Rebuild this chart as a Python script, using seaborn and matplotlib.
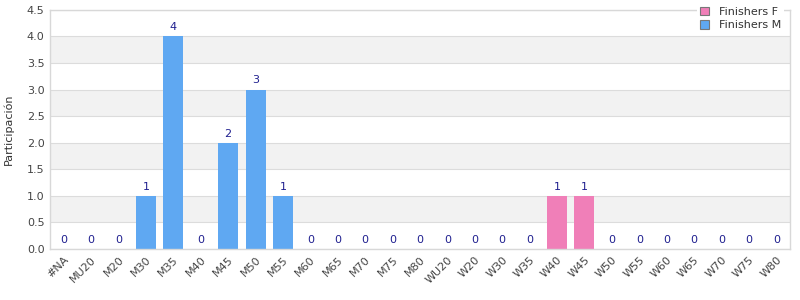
import matplotlib
matplotlib.use("Agg")
import matplotlib.pyplot as plt
import seaborn as sns
import pandas as pd
from matplotlib.patches import Patch

categories = ["#NA", "MU20", "M20", "M30", "M35", "M40", "M45", "M50", "M55", "M60",
              "M65", "M70", "M75", "M80", "WU20", "W20", "W30", "W35", "W40", "W45",
              "W50", "W55", "W60", "W65", "W70", "W75", "W80"]
values_m = [0, 0, 0, 1, 4, 0, 2, 3, 1, 0, 0, 0, 0, 0]
values_f = [0, 0, 0, 0, 1, 1, 0, 0, 0, 0, 0, 0, 0]
series_names = ["Finishers F", "Finishers M"]
y_ticks = [0.0, 0.5, 1.0, 1.5, 2.0, 2.5, 3.0, 3.5, 4.0, 4.5]

values = values_m + values_f
series = ["Finishers M"] * len(values_m) + ["Finishers F"] * len(values_f)
df = pd.DataFrame({"cat": categories, "val": values, "series": series})

colors = {"Finishers F": "#f07fb8", "Finishers M": "#5fa8f2"}

sns.set_style("white")
fig = plt.figure(figsize=(8, 3), dpi=100)
ax = fig.add_axes([0.0625, 0.17, 0.925, 0.797])

# alternating bands
for k in range(len(y_ticks) - 1):
    if k % 2 == 1:
        ax.axhspan(y_ticks[k], y_ticks[k + 1], color="#f2f2f2", zorder=0, lw=0)
for t in y_ticks:
    ax.axhline(t, color="#dcdcdc", lw=0.8, zorder=0.5)

sns.barplot(data=df, x="cat", y="val", hue="series", dodge=False, palette=colors,
            order=categories, hue_order=series_names, width=0.73, ax=ax,
            legend=False, zorder=2, saturation=1, linewidth=0)

for i, v in enumerate(values):
    ax.annotate(str(v), xy=(i, v), xytext=(0, 3), textcoords="offset points",
                ha="center", va="bottom", fontsize=8, color="#1f1f8f", zorder=3)

ax.set_ylim(0, 4.5)
ax.set_xlim(-0.5, len(categories) - 0.5)
ax.set_yticks(y_ticks)
ax.set_yticklabels([f"{t:.1f}" for t in y_ticks], fontsize=8, color="#444444")
ax.set_xticks(range(len(categories)))
ax.set_xticklabels(categories, rotation=45, ha="right", rotation_mode="anchor",
                   fontsize=8, color="#444444")
ax.tick_params(axis="both", length=0, pad=4)
ax.set_xlabel("")
ax.set_ylabel("Participación", fontsize=8, color="#333333", labelpad=9)

for s in ax.spines.values():
    s.set_color("#d8d8d8")
    s.set_linewidth(1)

handles = [Patch(facecolor=colors[n], edgecolor="#777777", lw=0.8) for n in series_names]
leg = ax.legend(handles, series_names, loc="upper right", bbox_to_anchor=(1.0, 1.05),
                fontsize=8, frameon=True, framealpha=1, edgecolor="white",
                handlelength=0.8, handleheight=0.8, borderpad=0.3, labelspacing=0.3,
                handletextpad=0.9)
leg.get_frame().set_linewidth(0)
for t in leg.get_texts():
    t.set_color("#333333")

fig.savefig("out.png", dpi=100)
